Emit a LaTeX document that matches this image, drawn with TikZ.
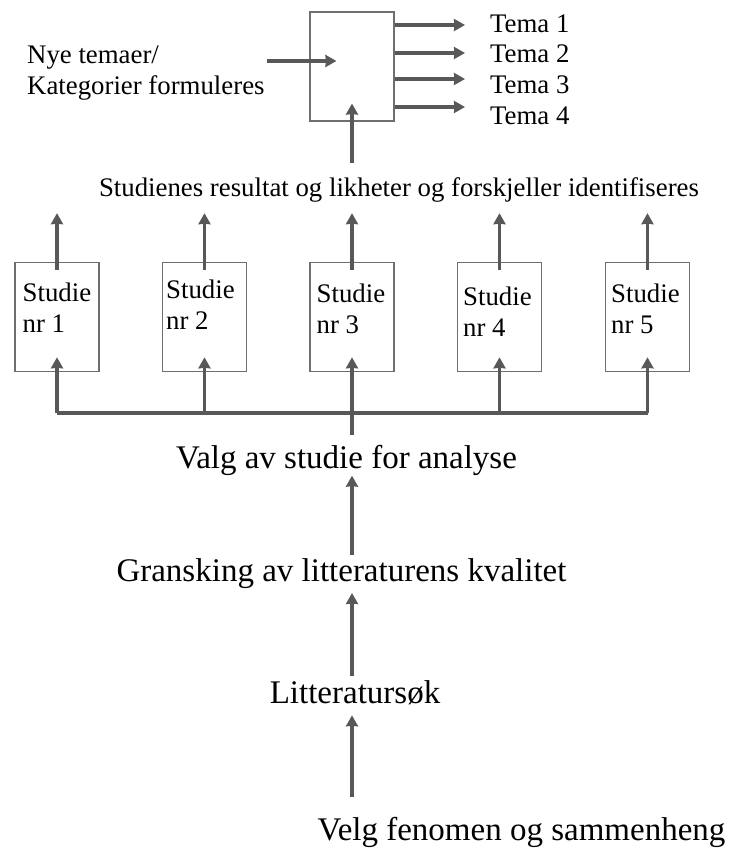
\documentclass[tikz,border=0pt]{standalone}
\usepackage{fontspec}
\setmainfont{Liberation Serif}
\usetikzlibrary{arrows.meta}
\definecolor{pilgraa}{HTML}{585858}
\definecolor{boksgraa}{HTML}{6E6E6E}
\tikzset{
  linje/.style={draw=pilgraa,line width=3.1pt},
  pil/.style={linje,->,>={Stealth[length=11pt,width=12pt,inset=0.5pt]}},
  boks/.style={draw=boksgraa,line width=1.1pt,minimum width=84pt,minimum height=109pt,inner sep=0pt},
  liten/.style={font=\fontsize{26.8}{30.5}\selectfont,inner sep=0pt,align=left},
  stor/.style={font=\fontsize{33}{40}\selectfont,inner sep=0pt},
}
\begin{document}
\begin{tikzpicture}[scale=1.000000,x=1pt,y=1pt]
\useasboundingbox (0.000000,0.000000) rectangle (729.000000,-849.000000);
% Drawing boxes
\node[boks] (topboks) at (352.000000,-66.500000) {};
% base of a two-line node sits on its last line
\foreach \i/\x/\dx/\dy in {1/57.0/8/70.0, 2/204.5/4/67.0, 3/352.0/7/71.0, 4/499.5/6/74.0, 5/647.5/6/71.0} {
  \node[boks] (s\i) at (\x,-317.250000) {};
  \node[liten,anchor=base west] (t\i) at ([shift={(\dx pt,-\dy pt)}]s\i.north west) {Studie\\nr \i};
}
% Done with boxes; drawing texts
\node[liten,anchor=base west] (nye) at (27.000000,-94.300000) {Nye temaer/\\Kategorier formuleres};
\node[liten,anchor=base] (studienes) at (399.000000,-196.700000) {Studienes resultat og likheter og forskjeller identifiseres};
\node[stor,anchor=base] (valg) at (346.500000,-468.300000) {Valg av studie for analyse};
\node[stor,anchor=base] (gransk) at (341.500000,-581.700000) {Gransking av litteraturens kvalitet};
\node[stor,anchor=base] (lit) at (355.000000,-703.300000) {Litteratursøk};
\node[stor,anchor=base] (velg) at (521.500000,-840.000000) {Velg fenomen og sammenheng};
% Done with texts; drawing arrows
\coordinate (buss) at (352.000000,-413.000000);
\path (topboks.west) ++(27pt,5.5pt) coordinate (inn);
\draw[pil] ([xshift=2pt]nye.east |- inn) -- (inn);
\foreach \n/\ya/\yb in {1/25/32, 2/53/62, 3/79/93, 4/107/124} {
  \node[liten,anchor=base west] (tema\n) at (490.000000,-\yb) {Tema \n};
  \draw[pil] (topboks.east |- 0,-\ya) -- ([xshift=-25pt]tema\n.west |- 0,-\ya);
}
\draw[pil] ([yshift=15pt]studienes.north -| topboks.south) -- ([yshift=18pt]topboks.south);
\foreach \i in {1,...,5} {
  \draw[pil] ([yshift=-8pt]s\i.north) -- ([yshift=-10.5pt]studienes.south -| s\i.north);
  \draw[pil] (s\i.south |- buss) -- ([yshift=15pt]s\i.south);
}
\draw[linje] (s1.south |- buss) -- (s5.south |- buss);
\draw[linje] ([yshift=10pt]valg.north -| buss) -- (buss);
\draw[pil] ([yshift=4pt]gransk.north -| buss) -- (valg.south -| buss);
\draw[pil] ([yshift=4pt]lit.north -| buss) -- ([yshift=-4pt]gransk.south -| buss);
\draw[pil] ([yshift=20pt]velg.north -| buss) -- ([yshift=-12pt]lit.base -| buss);
% Done with arrows
\end{tikzpicture}
\end{document}
